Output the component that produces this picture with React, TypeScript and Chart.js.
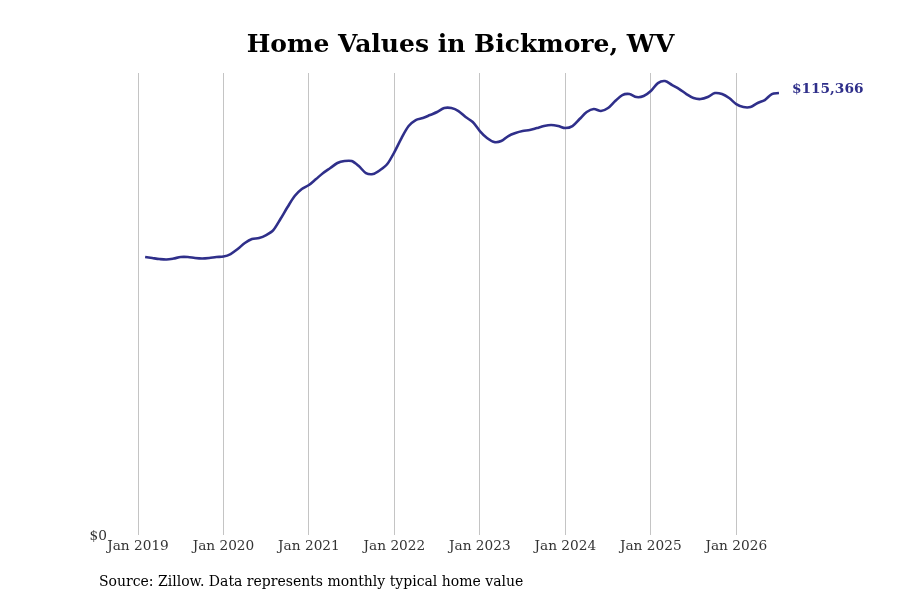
import React, { useEffect, useRef } from "react";
import { Chart, registerables } from "chart.js";

Chart.register(...registerables);

const TITLE = "Home Values in Bickmore, WV";
const SOURCE = "Source: Zillow. Data represents monthly typical home value";
const START_YEAR = 2019;
// months since Jan 2019
const MONTHS: number[] = [
  1, 2, 3, 4, 5, 6, 7, 8, 9, 10, 11, 12,
  13, 14, 15, 16, 17, 18, 19, 20, 21, 22, 23, 24,
  25, 26, 27, 28, 29, 30, 31, 32, 33, 34, 35, 36,
  37, 38, 39, 40, 41, 42, 43, 44, 45, 46, 47, 48,
  49, 50, 51, 52, 53, 54, 55, 56, 57, 58, 59, 60,
  61, 62, 63, 64, 65, 66, 67, 68, 69, 70, 71, 72,
  73, 74, 75, 76, 77, 78, 79, 80, 81, 82, 83, 84,
  85, 86, 87, 88, 89, 90,
];
const VALUES: number[] = [
  72560, 72300, 72040, 71910, 72170, 72560, 72560, 72300, 72170, 72300, 72560, 72690,
  73340, 74650, 76210, 77260, 77520, 78300, 79610, 82480, 85610, 88480, 90310, 91350,
  92920, 94490, 95790, 97100, 97620, 97620, 96310, 94490, 94220, 95270, 96830, 99970,
  103620, 106750, 108320, 108840, 109620, 110410, 111450, 111450, 110670, 109100, 107800, 105450,
  103620, 102580, 102840, 104150, 104930, 105450, 105710, 106230, 106750, 107010, 106750, 106230,
  106750, 108580, 110410, 111190, 110670, 111450, 113280, 114840, 115100, 114320, 114580, 115890,
  117970, 118500, 117450, 116410, 115100, 114060, 113800, 114320, 115360, 115100, 114060, 112500,
  111710, 111710, 112760, 113540, 115100, 115366,
];
const Y_MAX = 120600;
const LINE_COLOR = "#2f2f8a";
const FONT = "'DejaVu Serif', serif";

export default function App() {
  const ref = useRef<HTMLCanvasElement | null>(null);

  useEffect(() => {
    document.body.style.margin = "0";
    if (!ref.current) return;

    const textPlugin = {
      id: "texts",
      afterDraw(chart: any) {
        const { ctx, chartArea } = chart;
        ctx.save();
        ctx.fillStyle = "#000";
        ctx.font = `bold 25px ${FONT}`;
        ctx.textAlign = "center";
        ctx.textBaseline = "middle";
        ctx.fillText(TITLE, (chartArea.left + chartArea.right) / 2 + 2, 45);
        ctx.font = `14px ${FONT}`;
        ctx.textAlign = "left";
        ctx.fillText(SOURCE, 99, 582);
        const meta = chart.getDatasetMeta(0);
        const last = meta.data[meta.data.length - 1];
        const v = VALUES[VALUES.length - 1];
        ctx.fillStyle = LINE_COLOR;
        ctx.font = `bold 13.7px ${FONT}`;
        ctx.fillText("$" + v.toLocaleString("en-US"), last.x + 13, last.y - 4);
        ctx.restore();
      },
    };

    const chart = new Chart(ref.current, {
      type: "line",
      data: {
        datasets: [
          {
            data: MONTHS.map((m, i) => ({ x: m, y: VALUES[i] })),
            borderColor: LINE_COLOR,
            borderWidth: 2.6,
            pointRadius: 0,
            tension: 0.3,
            fill: false,
          },
        ],
      },
      options: {
        animation: false,
        responsive: false,
        layout: { padding: { top: 73, right: 121, bottom: 45, left: 0 } },
        plugins: {
          legend: { display: false },
          title: { display: false },
          tooltip: { enabled: false },
        },
        scales: {
          x: {
            type: "linear",
            min: 0,
            max: 90,
            afterBuildTicks: (s: any) => {
              s.ticks = s.ticks.filter((t: any) => t.value % 12 === 0);
            },
            afterFit: (s: any) => {
              s.height = 20;
            },
            ticks: {
              stepSize: 12,
              padding: 3,
              color: "#333",
              font: { family: FONT, size: 13.7 },
              callback: (v: any) => `Jan ${START_YEAR + Math.round(Number(v) / 12)}`,
              maxRotation: 0,
              autoSkip: false,
            },
            grid: { color: "#c4c4c4", lineWidth: 1, drawTicks: false },
            border: { display: false },
          },
          y: {
            min: 0,
            max: Y_MAX,
            afterBuildTicks: (s: any) => {
              s.ticks = [{ value: 0 }];
            },
            afterFit: (s: any) => {
              s.width = 138;
            },
            ticks: {
              padding: 31,
              labelOffset: 1,
              color: "#333",
              font: { family: FONT, size: 13.7 },
              callback: (v: any) => "$" + Number(v).toLocaleString("en-US"),
            },
            grid: { display: false, drawTicks: false },
            border: { display: false },
          },
        },
      },
      plugins: [textPlugin],
    });

    return () => chart.destroy();
  }, []);

  return (
    <div style={{ width: 900, height: 600 }}>
      <canvas ref={ref} width={900} height={600} style={{ width: 900, height: 600 }} />
    </div>
  );
}
